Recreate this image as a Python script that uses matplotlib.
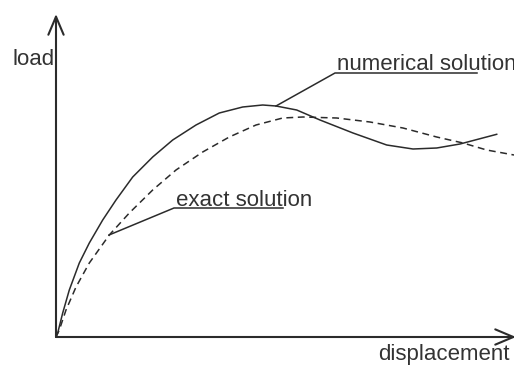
import matplotlib.pyplot as plt

# Curves (displacement, load) in arbitrary units
disp_num = [0, 1.7, 6.7, 13.3, 23.3, 33.3, 46.7, 60, 76.7, 96.7, 116.7, 140,
            163.3, 186.7, 206.7, 220, 240.7, 264, 297, 330.7, 357, 380.7, 404, 440.7]
load_num = [0, 4, 24, 47, 74, 94, 117, 137, 160, 180, 197, 212,
            224, 230, 232, 231, 227, 217, 204, 192, 188, 189, 193, 202.7]

disp_exact = [0, 3.3, 10, 20, 33.3, 53.3, 73.3, 96.7, 120, 146.7, 173.3, 200,
              226.7, 247, 280.7, 314, 347, 380.7, 407, 430.7, 458]
load_exact = [0, 7, 27, 50, 74, 102, 124, 147, 167, 185, 200, 212,
              219, 220, 219, 215, 209, 200, 194, 187, 182]

ink = '#2b2b2b'
txt = '#333333'
plt.rcParams['font.family'] = ['Liberation Sans', 'DejaVu Sans']

fig = plt.figure(figsize=(5.14, 3.65), dpi=100)
ax = fig.add_axes([0, 0, 1, 1])
ax.set_xlim(-56, 458)
ax.set_ylim(-28, 337)
ax.axis('off')

# axes with open arrow heads
arr = dict(arrowstyle='->,head_length=1.3,head_width=0.55', color=ink, lw=1.5,
           shrinkA=0, shrinkB=0)
ax.annotate('', xy=(0, 323), xytext=(0, 0), arrowprops=arr, annotation_clip=False)
ax.annotate('', xy=(460, 0), xytext=(0, 0), arrowprops=arr, annotation_clip=False)

ax.plot(disp_num, load_num, color=ink, lw=1.1, solid_joinstyle='round')
ax.plot(disp_exact, load_exact, color=ink, lw=1.1, dashes=(4.5, 3))

ax.text(-44, 272, 'load', fontsize=16, color=txt, ha='left', va='baseline')
ax.text(322, -23, 'displacement', fontsize=16, color=txt, ha='left', va='baseline')

# labels with underline and leader line
ax.text(281, 267, 'numerical solution', fontsize=16, color=txt, ha='left', va='baseline')
ax.plot([421, 279, 220], [264, 264, 231], color=ink, lw=1.1)

ax.text(120, 131, 'exact solution', fontsize=16, color=txt, ha='left', va='baseline')
ax.plot([227, 118, 53], [129, 129, 102], color=ink, lw=1.1)

fig.savefig('out.png', dpi=100)
